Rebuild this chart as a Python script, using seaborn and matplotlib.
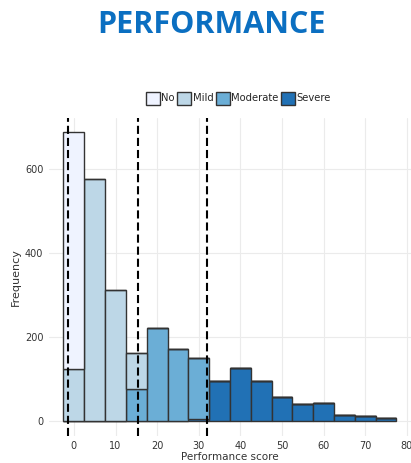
import pandas as pd
import matplotlib
matplotlib.use("Agg")
import matplotlib.pyplot as plt
import seaborn as sns

# bin centres (width 5) and counts per severity group
bin_centres = [0, 5, 10, 15, 20, 25, 30, 35, 40, 45, 50, 55, 60, 65, 70, 75]
no_counts = [565, 0, 0, 0, 0, 0, 0, 0, 0, 0, 0, 0, 0, 0, 0, 0]
mild_counts = [125, 578, 314, 86, 0, 0, 0, 0, 0, 0, 0, 0, 0, 0, 0, 0]
moderate_counts = [0, 0, 0, 77, 223, 172, 144, 0, 0, 0, 0, 0, 0, 0, 0, 0]
severe_counts = [0, 0, 0, 0, 0, 0, 6, 96, 127, 96, 58, 41, 43, 15, 12, 9]

groups = ["No", "Mild", "Moderate", "Severe"]
group_colors = ["#eff3ff", "#bdd7e7", "#6baed6", "#2171b5"]
cutoffs = [-1.4, 15.4, 32.1]

frames = []
for name, counts in zip(groups, [no_counts, mild_counts, moderate_counts, severe_counts]):
    frames.append(pd.DataFrame({"score": bin_centres, "count": counts, "group": name}))
df = pd.concat(frames, ignore_index=True)
df = df[df["count"] > 0]

sns.set_style("whitegrid", {"grid.color": "#ebebeb", "axes.edgecolor": "white"})
plt.rcParams["font.family"] = ["DejaVu Sans"]

fig = plt.figure(figsize=(4.11, 4.63), dpi=100)
ax = fig.add_axes([0.119, 0.058, 0.881, 0.687])

sns.histplot(
    data=df, x="score", weights="count", hue="group",
    hue_order=groups, palette=group_colors,
    multiple="stack", binwidth=5, binrange=(-2.5, 77.5),
    edgecolor="#333333", linewidth=1.0, alpha=1, ax=ax,
)

for c in cutoffs:
    ax.axvline(c, color="black", lw=1.5, linestyle=(0, (3.9, 1.9)), zorder=5)

ax.set_xlim(-6, 81)
ax.set_ylim(-35, 722)
ax.set_xticks(range(0, 90, 10))
ax.set_yticks([0, 200, 400, 600])
ax.tick_params(axis="both", length=3, width=0.8, color="#999999",
               labelsize=7, labelcolor="#333333", pad=1)
ax.tick_params(axis="x", pad=0.5)
for s in ax.spines.values():
    s.set_visible(False)
ax.set_xlabel("Performance score", fontsize=7.5, color="#333333", labelpad=0.5)
ax.set_ylabel("Frequency", fontsize=8, color="#333333", labelpad=3)

sns.move_legend(ax, "center", bbox_to_anchor=(0.58, 0.788),
                bbox_transform=fig.transFigure, ncol=4, frameon=False,
                title=None, fontsize=7.2, handlelength=1.4, handleheight=1.6,
                handletextpad=0.15, columnspacing=0.25)

fig.text(0.515, 0.945, "PERFORMANCE", ha="center", va="center",
         fontsize=22, fontweight="bold", color="#0b6fc1", family="Open Sans")

fig.savefig("out.png", dpi=100)
